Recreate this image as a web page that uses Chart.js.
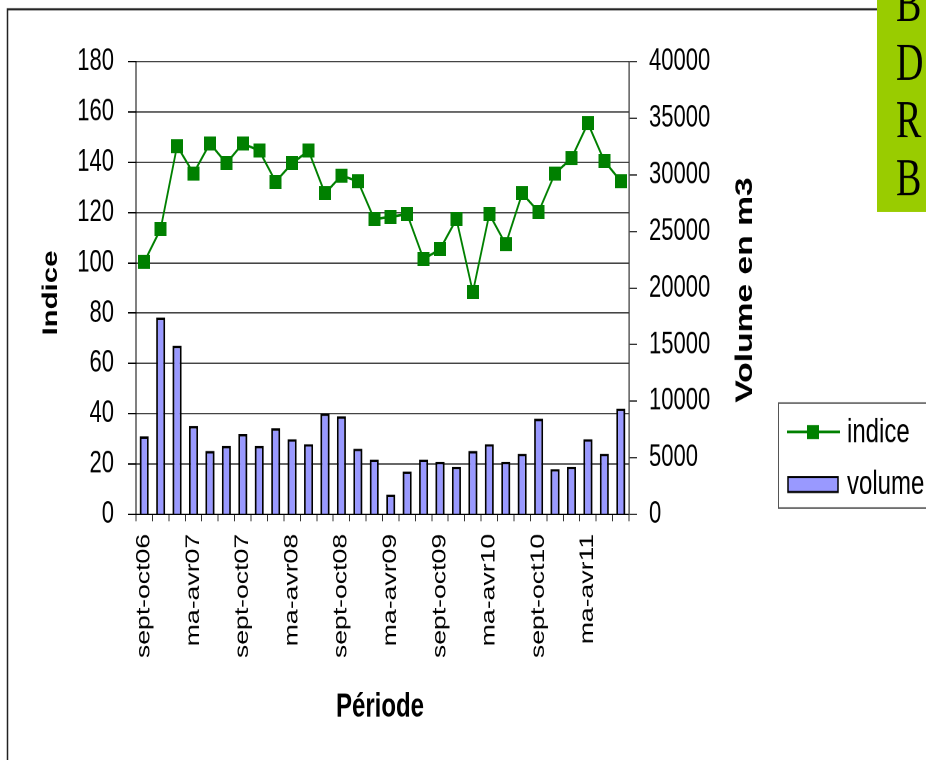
<!DOCTYPE html>
<html><head><meta charset="utf-8">
<script src="https://cdn.jsdelivr.net/npm/chart.js@4.4.1/dist/chart.umd.min.js"></script>
<style>
html,body{margin:0;padding:0;background:#fff;overflow:hidden;}
#wrap{position:relative;width:926px;height:760px;overflow:hidden;background:#fff;}
#c{position:absolute;left:0;top:0;width:926px;height:543px;transform:scaleY(1.39963);transform-origin:0 0;}
</style></head><body>
<div id="wrap"><canvas id="c" width="926" height="543"></canvas></div>
<script>
const categories = [
  'sept-oct06','nov-déc06','janv-févr07','ma-avr07','mai-juin07','juil-août07',
  'sept-oct07','nov-déc07','janv-févr08','ma-avr08','mai-juin08','juil-août08',
  'sept-oct08','nov-déc08','janv-févr09','ma-avr09','mai-juin09','juil-août09',
  'sept-oct09','nov-déc09','janv-févr10','ma-avr10','mai-juin10','juil-août10',
  'sept-oct10','nov-déc10','janv-févr11','ma-avr11','mai-juin11','juil-août11'
];
const indiceValues = [100.4, 113.5, 146.5, 135.6, 147.5, 139.6, 147.5, 144.6, 132.3, 139.6,
  144.6, 127.6, 134.7, 132.5, 117.4, 118.3, 119.4, 101.5, 105.4, 117.4,
  88.4, 119.4, 107.4, 127.6, 120.3, 135.6, 141.6, 155.5, 140.5, 132.5];
const volumeValues = [6900, 17400, 14900, 7800, 5600, 6050, 7100, 6050, 7600, 6650,
  6200, 8900, 8650, 5800, 4850, 1750, 3800, 4850, 4650, 4200,
  5600, 6200, 4650, 5350, 8450, 4000, 4200, 6650, 5350, 9350];
const indiceTicks = [0, 20, 40, 60, 80, 100, 120, 140, 160, 180];
const volumeTicks = [0, 5000, 10000, 15000, 20000, 25000, 30000, 35000, 40000];
const seriesNames = ['indice', 'volume'];
const leftTitle = 'Indice';
const rightTitle = 'Volume en m3';
const bottomTitle = 'Période';
const sideLetters = ['B', 'D', 'R', 'B'];

const SY = 760 / 543;
const Y = v => v / SY;
const FONT = "'Liberation Sans', Arial, sans-serif";
const SERIF = "'Liberation Serif', 'Times New Roman', serif";
const GREEN = '#008000';
const BLUE = '#9999FF';

const AREA = {left: 136, right: 629, top: Y(61.7), bottom: Y(514.3)};

const mk = document.createElement('canvas');
mk.width = 12; mk.height = 10;
const mctx = mk.getContext('2d');
mctx.fillStyle = GREEN; mctx.fillRect(0, 0, 12, 10);

const decor = {
  id: 'decor',
  beforeDraw(chart) {
    const ctx = chart.ctx;
    ctx.save();
    ctx.strokeStyle = '#222';
    ctx.lineWidth = 1.5;
    ctx.beginPath();
    ctx.moveTo(7.5, 600);
    ctx.lineTo(7.5, Y(9.3));
    ctx.lineTo(880, Y(9.3));
    ctx.stroke();
    ctx.restore();
  },
  afterDraw(chart) {
    const ctx = chart.ctx;
    ctx.save();
    ctx.fillStyle = '#000';
    ctx.font = 'bold 21px ' + FONT;
    ctx.textAlign = 'center';
    ctx.textBaseline = 'alphabetic';
    ctx.save();
    ctx.translate(57, Y(293));
    ctx.rotate(-Math.PI / 2);
    ctx.fillText(leftTitle, 0, 0);
    ctx.restore();
    ctx.font = 'bold 24px ' + FONT;
    ctx.save();
    ctx.translate(752, Y(290));
    ctx.rotate(-Math.PI / 2);
    ctx.fillText(rightTitle, 0, 0);
    ctx.restore();
    ctx.font = 'bold 24px ' + FONT;
    ctx.fillText(bottomTitle, 380, Y(716.5));

    ctx.fillStyle = '#99CC00';
    ctx.fillRect(877, 0, 60, Y(212));
    ctx.fillStyle = '#000';
    ctx.font = '38px ' + SERIF;
    ctx.textAlign = 'left';
    const bases = [21, 80, 137.5, 195];
    sideLetters.forEach((l, i) => ctx.fillText(l, 896, Y(bases[i])));

    const ds = chart.data.datasets;
    ctx.fillStyle = '#fff';
    ctx.fillRect(778, Y(403), 200, Y(508) - Y(403));
    ctx.strokeStyle = '#555';
    ctx.lineWidth = 1;
    ctx.strokeRect(778.5, Y(403), 200, Y(508) - Y(403));
    ctx.strokeStyle = ds[0].borderColor;
    ctx.lineWidth = 2;
    ctx.beginPath();
    ctx.moveTo(787, Y(432));
    ctx.lineTo(840, Y(432));
    ctx.stroke();
    ctx.fillStyle = ds[0].pointBackgroundColor;
    ctx.fillRect(813 - 6, Y(432) - 5, 12, 10);
    ctx.fillStyle = ds[1].backgroundColor;
    ctx.fillRect(788, Y(477), 50, Y(492) - Y(477));
    ctx.strokeStyle = '#000';
    ctx.lineWidth = 1.5;
    ctx.strokeRect(788, Y(477), 50, Y(492) - Y(477));
    ctx.fillStyle = '#000';
    ctx.font = '24px ' + FONT;
    ctx.textAlign = 'left';
    ctx.textBaseline = 'middle';
    ctx.fillText(ds[0].label, 847, Y(433));
    ctx.fillText(ds[1].label, 847, Y(485));
    ctx.restore();
  }
};

new Chart(document.getElementById('c'), {
  data: {
    labels: categories,
    datasets: [
      {
        type: 'line', label: seriesNames[0], data: indiceValues, yAxisID: 'y',
        borderColor: GREEN, borderWidth: 1.8, pointStyle: mk,
        pointBackgroundColor: GREEN, pointBorderColor: GREEN, pointRadius: 6,
        tension: 0, order: 0
      },
      {
        type: 'bar', label: seriesNames[1], data: volumeValues, yAxisID: 'yVol',
        backgroundColor: BLUE, borderColor: '#000', borderWidth: 1.8,
        barPercentage: 0.55, categoryPercentage: 1, order: 1
      }
    ]
  },
  options: {
    responsive: false,
    devicePixelRatio: 2,
    animation: false,
    layout: {padding: {left: 0, right: 0, top: AREA.top, bottom: 0}},
    plugins: {legend: {display: false}, tooltip: {enabled: false}},
    scales: {
      x: {
        type: 'category', offset: true,
        grid: {offset: true, drawOnChartArea: false, drawTicks: true, tickLength: 5, color: '#333', tickColor: '#333'},
        border: {display: true, color: '#000', width: 1},
        ticks: {
          autoSkip: false, minRotation: 90, maxRotation: 90, padding: 9,
          color: '#000', font: {family: FONT, size: 19},
          callback: function (v, i) { return i % 3 === 0 ? this.getLabelForValue(v) : ''; }
        },
        afterFit: s => { s.height = 543 - AREA.bottom; }
      },
      y: {
        position: 'left', min: 0, max: 180,
        afterBuildTicks: s => { s.ticks = indiceTicks.map(v => ({value: v})); },
        grid: {color: '#444', lineWidth: 1, tickLength: 8, tickColor: '#000'},
        border: {display: true, color: '#000', width: 1},
        ticks: {padding: 14, color: '#000', font: {family: FONT, size: 22}, callback: v => String(v)},
        afterFit: s => { s.width = AREA.left; }
      },
      yVol: {
        position: 'right', min: 0, max: 40000,
        afterBuildTicks: s => { s.ticks = volumeTicks.map(v => ({value: v})); },
        grid: {drawOnChartArea: false, tickLength: 8, color: '#333', tickColor: '#333'},
        border: {display: true, color: '#333', width: 1.2},
        ticks: {padding: 12, color: '#000', font: {family: FONT, size: 22}, callback: v => String(v)},
        afterFit: s => { s.width = 926 - AREA.right; }
      }
    }
  },
  plugins: [decor]
});
</script>
</body></html>
